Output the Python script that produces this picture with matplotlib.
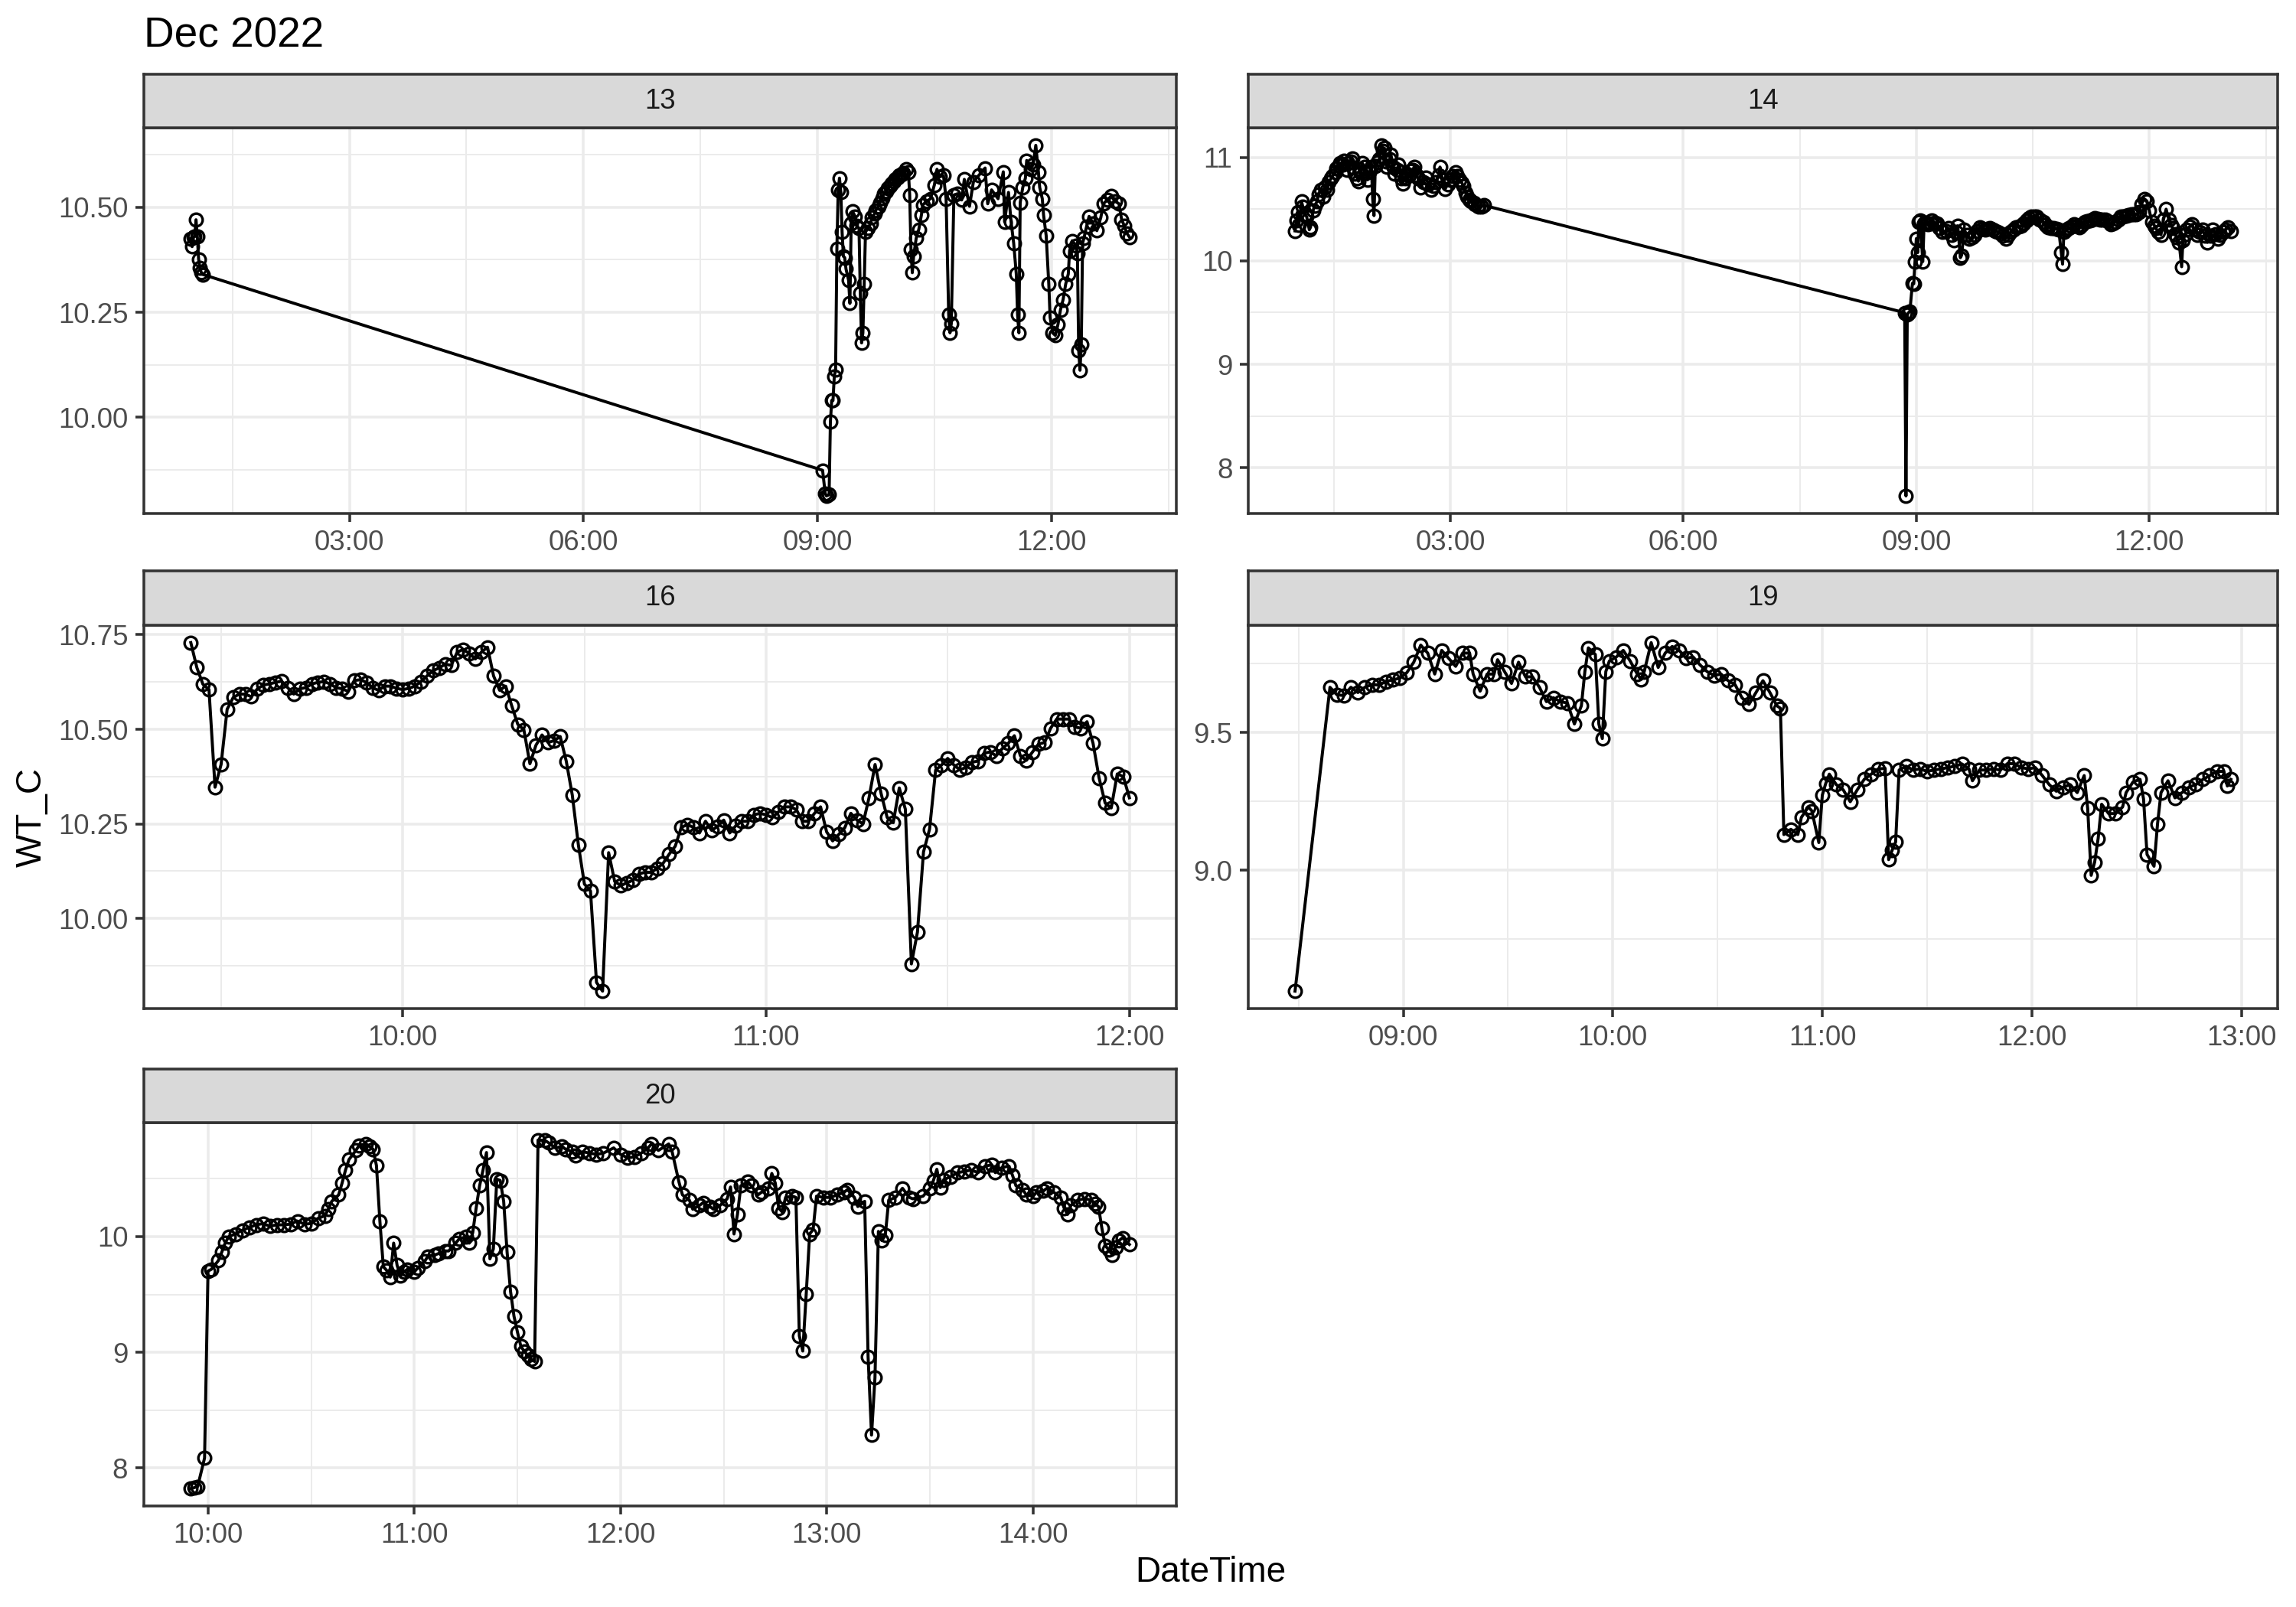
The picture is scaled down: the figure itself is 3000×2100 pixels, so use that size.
import matplotlib
matplotlib.use("Agg")
import matplotlib.pyplot as plt
import matplotlib.dates as mdates
from matplotlib.ticker import FixedLocator, NullFormatter, FixedFormatter
import pandas as pd
import numpy as np

plt.rcParams['font.family'] = ['Liberation Sans', 'DejaVu Sans']

TITLE = "Dec 2022"
X_LABEL = "DateTime"
Y_LABEL = "WT_C"
facet_days = ["13", "14", "16", "19", "20"]

# ---------------- Day 13 ----------------
times_13 = ["00:58", "00:59", "01:00", "01:01", "01:02", "01:03", "01:04", "01:05", "01:06", "01:07",
            "09:04", "09:06", "09:07", "09:09", "09:10", "09:11", "09:12", "09:13", "09:14", "09:15",
            "09:16", "09:17", "09:18", "09:19", "09:20", "09:21", "09:22", "09:24", "09:25", "09:26",
            "09:27", "09:29", "09:30", "09:32", "09:33", "09:34", "09:35", "09:36", "09:37", "09:39",
            "09:41", "09:42", "09:44", "09:45", "09:47", "09:48", "09:50", "09:51", "09:53", "09:54",
            "09:56", "09:57", "09:59", "10:00", "10:02", "10:03", "10:05", "10:06", "10:08", "10:10",
            "10:11", "10:12", "10:13", "10:14", "10:16", "10:18", "10:20", "10:21", "10:24", "10:27",
            "10:30", "10:32", "10:34", "10:37", "10:39", "10:41", "10:42", "10:43", "10:45", "10:48",
            "10:51", "10:53", "10:57", "11:00", "11:04", "11:09", "11:11", "11:14", "11:19", "11:23",
            "11:24", "11:27", "11:29", "11:31", "11:33", "11:34", "11:35", "11:36", "11:38", "11:40",
            "11:41", "11:44", "11:46", "11:48", "11:50", "11:51", "11:53", "11:54", "11:56", "11:58",
            "11:59", "12:01", "12:03", "12:05", "12:07", "12:09", "12:11", "12:13", "12:14", "12:16",
            "12:19", "12:20", "12:21", "12:22", "12:23", "12:24", "12:25", "12:27", "12:29", "12:32",
            "12:35", "12:38", "12:40", "12:43", "12:46", "12:49", "12:52", "12:54", "12:56", "12:58",
            "13:00"]
wt_13 = [10.425, 10.406, 10.429, 10.430, 10.470, 10.430, 10.376, 10.356, 10.345, 10.340,
         9.874, 9.819, 9.813, 9.816, 9.989, 10.040, 10.040, 10.098, 10.113, 10.402,
         10.541, 10.569, 10.536, 10.441, 10.383, 10.380, 10.353, 10.326, 10.271, 10.462,
         10.490, 10.478, 10.456, 10.450, 10.295, 10.177, 10.201, 10.317, 10.441, 10.450,
         10.462, 10.475, 10.484, 10.493, 10.502, 10.511, 10.522, 10.532, 10.538, 10.544,
         10.550, 10.556, 10.561, 10.566, 10.571, 10.575, 10.578, 10.581, 10.590, 10.584,
         10.529, 10.399, 10.344, 10.383, 10.426, 10.447, 10.481, 10.505, 10.514, 10.520,
         10.553, 10.590, 10.572, 10.575, 10.520, 10.244, 10.201, 10.223, 10.529, 10.532,
         10.517, 10.566, 10.502, 10.560, 10.575, 10.593, 10.508, 10.541, 10.520, 10.584,
         10.465, 10.535, 10.465, 10.414, 10.341, 10.244, 10.201, 10.511, 10.547, 10.569,
         10.611, 10.590, 10.602, 10.647, 10.584, 10.547, 10.520, 10.481, 10.432, 10.317,
         10.238, 10.201, 10.195, 10.220, 10.256, 10.280, 10.317, 10.341, 10.396, 10.420,
         10.408, 10.390, 10.159, 10.112, 10.174, 10.414, 10.426, 10.453, 10.478, 10.462,
         10.444, 10.475, 10.508, 10.517, 10.526, 10.514, 10.508, 10.471, 10.456, 10.438,
         10.429]

# ---------------- Day 14 ----------------
times_14 = ["01:00", "01:01", "01:02", "01:03", "01:05", "01:06", "01:08", "01:09", "01:11", "01:12",
            "01:14", "01:15", "01:17", "01:18", "01:20", "01:22", "01:23", "01:25", "01:26", "01:28",
            "01:29", "01:31", "01:32", "01:34", "01:35", "01:37", "01:38", "01:40", "01:41", "01:43",
            "01:44", "01:45", "01:46", "01:48", "01:49", "01:51", "01:52", "01:54", "01:55", "01:56",
            "01:58", "01:59", "02:00", "02:01", "02:02", "02:04", "02:05", "02:07", "02:08", "02:09",
            "02:10", "02:11", "02:13", "02:14", "02:16", "02:17", "02:19", "02:20", "02:22", "02:23",
            "02:25", "02:26", "02:28", "02:29", "02:31", "02:32", "02:34", "02:35", "02:37", "02:39",
            "02:41", "02:43", "02:45", "02:47", "02:49", "02:51", "02:52", "02:54", "02:56", "02:58",
            "03:00", "03:02", "03:04", "03:05", "03:07", "03:09", "03:10", "03:12", "03:13", "03:15",
            "03:16", "03:18", "03:19", "03:21", "03:22", "03:24", "03:26",
            "08:51", "08:52", "08:53", "08:54", "08:55", "08:57", "08:58", "08:59", "09:00", "09:01",
            "09:02", "09:03", "09:05", "09:06", "09:08", "09:09", "09:11", "09:12", "09:14", "09:16",
            "09:18", "09:20", "09:23", "09:25", "09:27", "09:29", "09:31", "09:32", "09:34", "09:35",
            "09:37", "09:39", "09:41", "09:43", "09:45", "09:47", "09:49", "09:51", "09:53", "09:55",
            "09:57", "09:59", "10:01", "10:03", "10:05", "10:07", "10:09", "10:11", "10:13", "10:15",
            "10:17", "10:19", "10:21", "10:23", "10:25", "10:27", "10:29", "10:31", "10:33", "10:35",
            "10:38", "10:40", "10:42", "10:44", "10:46", "10:48", "10:50", "10:52", "10:53", "10:54",
            "10:56", "10:58", "11:00", "11:02", "11:04", "11:06", "11:08", "11:10", "11:12", "11:14",
            "11:16", "11:18", "11:20", "11:22", "11:24", "11:26", "11:28", "11:30", "11:32", "11:34",
            "11:36", "11:38", "11:40", "11:42", "11:44", "11:46", "11:48", "11:50", "11:52", "11:54",
            "11:56", "11:58", "12:00", "12:02", "12:04", "12:05", "12:07", "12:09", "12:11", "12:13",
            "12:15", "12:17", "12:18", "12:20", "12:21", "12:23", "12:25", "12:26", "12:28", "12:29",
            "12:31", "12:33", "12:35", "12:37", "12:39", "12:41", "12:43", "12:45", "12:47", "12:49",
            "12:51", "12:53", "12:55", "12:57", "12:59", "13:01", "13:03"]
wt_14 = [10.289, 10.388, 10.474, 10.350, 10.573, 10.523, 10.450, 10.425, 10.300, 10.326,
         10.486, 10.530, 10.573, 10.640, 10.684, 10.620, 10.709, 10.690, 10.758, 10.800,
         10.820, 10.860, 10.894, 10.920, 10.943, 10.930, 10.968, 10.880, 10.943, 10.960,
         10.993, 10.900, 10.844, 10.800, 10.770, 10.860, 10.943, 10.906, 10.850, 10.783,
         10.870, 10.906, 10.598, 10.437, 10.919, 10.950, 10.980, 11.116, 11.060, 11.091,
         10.960, 10.906, 10.980, 11.030, 10.900, 10.844, 10.880, 10.931, 10.800, 10.746,
         10.800, 10.844, 10.830, 10.869, 10.880, 10.906, 10.830, 10.795, 10.709, 10.760,
         10.807, 10.740, 10.684, 10.720, 10.758, 10.830, 10.906, 10.780, 10.696, 10.740,
         10.783, 10.820, 10.857, 10.820, 10.783, 10.750, 10.721, 10.660, 10.622, 10.590,
         10.573, 10.560, 10.548, 10.530, 10.523, 10.523, 10.536,
         9.499, 7.728, 9.480, 9.499, 9.511, 9.783, 9.778, 9.993, 10.215, 10.079,
         10.375, 10.388, 9.993, 10.363, 10.370, 10.351, 10.360, 10.388, 10.370, 10.363,
         10.320, 10.277, 10.290, 10.314, 10.250, 10.202, 10.280, 10.338, 10.030, 10.054,
         10.301, 10.250, 10.215, 10.230, 10.252, 10.290, 10.326, 10.310, 10.301, 10.310,
         10.314, 10.300, 10.289, 10.280, 10.264, 10.240, 10.215, 10.250, 10.277, 10.300,
         10.326, 10.330, 10.338, 10.360, 10.388, 10.410, 10.425, 10.430, 10.425, 10.400,
         10.375, 10.350, 10.326, 10.320, 10.314, 10.310, 10.301, 10.079, 9.968, 10.277,
         10.300, 10.314, 10.330, 10.351, 10.340, 10.326, 10.350, 10.375, 10.380, 10.388,
         10.400, 10.412, 10.405, 10.400, 10.400, 10.400, 10.380, 10.351, 10.360, 10.375,
         10.400, 10.425, 10.430, 10.437, 10.440, 10.449, 10.449, 10.449, 10.470, 10.548,
         10.598, 10.573, 10.486, 10.375, 10.340, 10.314, 10.280, 10.252, 10.400, 10.499,
         10.400, 10.350, 10.314, 10.260, 10.227, 10.178, 9.943, 10.202, 10.260, 10.301,
         10.330, 10.351, 10.300, 10.252, 10.280, 10.301, 10.240, 10.178, 10.240, 10.301,
         10.260, 10.215, 10.250, 10.277, 10.300, 10.326, 10.289]

# ---------------- Day 16 (one reading per minute) ----------------
start_16 = "09:25"
wt_16 = [10.729, 10.663, 10.619, 10.605, 10.347, 10.407, 10.553, 10.584, 10.593, 10.593,
         10.586, 10.607, 10.617, 10.620, 10.624, 10.627, 10.610, 10.593, 10.607, 10.610,
         10.620, 10.624, 10.626, 10.620, 10.610, 10.607, 10.600, 10.629, 10.631, 10.624,
         10.610, 10.603, 10.614, 10.614, 10.608, 10.605, 10.608, 10.614, 10.626, 10.641,
         10.655, 10.662, 10.672, 10.669, 10.704, 10.711, 10.700, 10.686, 10.704, 10.717,
         10.641, 10.603, 10.614, 10.562, 10.513, 10.499, 10.409, 10.458, 10.485, 10.465,
         10.470, 10.481, 10.416, 10.326, 10.195, 10.091, 10.073, 9.831, 9.808, 10.174,
         10.098, 10.087, 10.094, 10.101, 10.118, 10.122, 10.122, 10.132, 10.146, 10.170,
         10.191, 10.241, 10.248, 10.241, 10.226, 10.257, 10.233, 10.243, 10.260, 10.226,
         10.245, 10.257, 10.257, 10.274, 10.278, 10.274, 10.267, 10.281, 10.295, 10.295,
         10.288, 10.257, 10.257, 10.278, 10.295, 10.229, 10.205, 10.222, 10.240, 10.278,
         10.260, 10.250, 10.319, 10.407, 10.330, 10.267, 10.253, 10.345, 10.289, 9.880,
         9.964, 10.176, 10.236, 10.392, 10.406, 10.423, 10.406, 10.393, 10.399, 10.413,
         10.416, 10.437, 10.440, 10.430, 10.449, 10.463, 10.483, 10.430, 10.418, 10.440,
         10.461, 10.465, 10.503, 10.527, 10.527, 10.527, 10.506, 10.503, 10.520, 10.463,
         10.371, 10.305, 10.292, 10.382, 10.375, 10.319]

# ---------------- Day 19 ----------------
times_19 = ["08:29", "08:39", "08:41", "08:43", "08:45", "08:47", "08:49", "08:51", "08:53", "08:55",
            "08:57", "08:59", "09:01", "09:03", "09:05", "09:07", "09:09", "09:11", "09:13", "09:15",
            "09:17", "09:19", "09:20", "09:22", "09:24", "09:26", "09:27", "09:29", "09:31", "09:33",
            "09:35", "09:37", "09:39", "09:41", "09:43", "09:45", "09:47", "09:49", "09:51", "09:52",
            "09:53", "09:55", "09:56", "09:57", "09:58", "09:59", "10:01", "10:03", "10:05", "10:07",
            "10:08", "10:09", "10:11", "10:13", "10:15", "10:17", "10:19", "10:21", "10:23", "10:25",
            "10:27", "10:29", "10:31", "10:33", "10:35", "10:37", "10:39", "10:41", "10:43", "10:45",
            "10:47", "10:48", "10:49", "10:51", "10:53", "10:54", "10:56", "10:57", "10:59", "11:00",
            "11:01", "11:02", "11:04", "11:06", "11:08", "11:10", "11:12", "11:14", "11:16", "11:18",
            "11:19", "11:20", "11:21", "11:22", "11:24", "11:26", "11:28", "11:30", "11:32", "11:34",
            "11:36", "11:38", "11:40", "11:42", "11:43", "11:45", "11:47", "11:49", "11:51", "11:53",
            "11:55", "11:57", "11:59", "12:01", "12:03", "12:05", "12:07", "12:09", "12:11", "12:13",
            "12:15", "12:16", "12:17", "12:18", "12:19", "12:20", "12:22", "12:24", "12:26", "12:27",
            "12:29", "12:31", "12:32", "12:33", "12:35", "12:36", "12:37", "12:39", "12:41", "12:43",
            "12:45", "12:47", "12:49", "12:51", "12:53", "12:55", "12:56", "12:57"]
wt_19 = [8.562, 9.664, 9.637, 9.634, 9.664, 9.645, 9.664, 9.674, 9.672, 9.685,
         9.691, 9.697, 9.717, 9.755, 9.817, 9.788, 9.712, 9.798, 9.769, 9.740,
         9.788, 9.788, 9.712, 9.650, 9.712, 9.712, 9.764, 9.721, 9.678, 9.755,
         9.702, 9.702, 9.664, 9.612, 9.626, 9.612, 9.607, 9.531, 9.597, 9.721,
         9.807, 9.783, 9.531, 9.478, 9.721, 9.759, 9.774, 9.798, 9.759, 9.712,
         9.693, 9.721, 9.826, 9.736, 9.788, 9.812, 9.798, 9.769, 9.774, 9.745,
         9.721, 9.707, 9.712, 9.688, 9.674, 9.626, 9.602, 9.645, 9.688, 9.645,
         9.597, 9.588, 9.130, 9.149, 9.130, 9.192, 9.230, 9.216, 9.101, 9.273,
         9.316, 9.349, 9.311, 9.292, 9.249, 9.292, 9.330, 9.349, 9.368, 9.370,
         9.039, 9.073, 9.103, 9.364, 9.378, 9.364, 9.368, 9.359, 9.364, 9.368,
         9.373, 9.378, 9.386, 9.368, 9.325, 9.364, 9.364, 9.368, 9.364, 9.387,
         9.387, 9.373, 9.368, 9.373, 9.344, 9.311, 9.287, 9.302, 9.311, 9.282,
         9.344, 9.225, 8.982, 9.030, 9.116, 9.240, 9.206, 9.206, 9.230, 9.282,
         9.321, 9.330, 9.259, 9.058, 9.015, 9.168, 9.282, 9.325, 9.263, 9.282,
         9.302, 9.311, 9.330, 9.344, 9.359, 9.359, 9.306, 9.330]

# ---------------- Day 20 ----------------
times_20 = ["09:55", "09:56", "09:57", "09:59", "10:00", "10:01", "10:03", "10:04", "10:05", "10:06",
            "10:08", "10:10", "10:12", "10:14", "10:16", "10:18", "10:20", "10:22", "10:24", "10:26",
            "10:28", "10:30", "10:32", "10:34", "10:35", "10:36", "10:38", "10:39", "10:40", "10:41",
            "10:43", "10:44", "10:46", "10:47", "10:48", "10:49", "10:50", "10:51", "10:52", "10:53",
            "10:54", "10:55", "10:56", "10:57", "10:58", "11:00", "11:01", "11:03", "11:04", "11:06",
            "11:07", "11:09", "11:10", "11:12", "11:13", "11:15", "11:16", "11:17", "11:18", "11:19",
            "11:20", "11:21", "11:22", "11:23", "11:24", "11:25", "11:26", "11:27", "11:28", "11:29",
            "11:30", "11:31", "11:32", "11:33", "11:34", "11:35", "11:36", "11:38", "11:39", "11:41",
            "11:43", "11:44", "11:46", "11:47", "11:49", "11:51", "11:53", "11:55", "11:58", "12:00",
            "12:02", "12:04", "12:06", "12:08", "12:09", "12:11", "12:14", "12:15", "12:17", "12:18",
            "12:20", "12:21", "12:23", "12:24", "12:26", "12:27", "12:29", "12:31", "12:32", "12:33",
            "12:34", "12:35", "12:37", "12:38", "12:40", "12:41", "12:43", "12:44", "12:45", "12:46",
            "12:47", "12:48", "12:50", "12:51", "12:52", "12:53", "12:54", "12:55", "12:56", "12:57",
            "12:59", "13:01", "13:03", "13:05", "13:06", "13:08", "13:09", "13:11", "13:12", "13:13",
            "13:14", "13:15", "13:16", "13:17", "13:18", "13:20", "13:22", "13:24", "13:25", "13:28",
            "13:30", "13:31", "13:32", "13:33", "13:34", "13:36", "13:38", "13:40", "13:42", "13:44",
            "13:46", "13:48", "13:49", "13:51", "13:53", "13:54", "13:55", "13:57", "13:58", "14:00",
            "14:01", "14:03", "14:04", "14:06", "14:08", "14:09", "14:10", "14:11", "14:13", "14:15",
            "14:17", "14:18", "14:19", "14:20", "14:21", "14:22", "14:23", "14:24", "14:25", "14:26",
            "14:28"]
wt_20 = [7.822, 7.830, 7.840, 8.086, 9.702, 9.718, 9.792, 9.865, 9.944, 10.000,
         10.023, 10.056, 10.079, 10.102, 10.113, 10.090, 10.102, 10.102, 10.108, 10.135,
         10.108, 10.113, 10.158, 10.181, 10.237, 10.305, 10.361, 10.463, 10.576, 10.666,
         10.745, 10.790, 10.801, 10.779, 10.756, 10.614, 10.131, 9.740, 9.707, 9.650,
         9.944, 9.752, 9.661, 9.695, 9.718, 9.695, 9.729, 9.786, 9.831, 9.842,
         9.853, 9.876, 9.876, 9.944, 9.977, 10.000, 9.944, 10.034, 10.248, 10.440,
         10.576, 10.727, 9.808, 9.894, 10.497, 10.485, 10.305, 9.865, 9.526, 9.312,
         9.176, 9.052, 9.007, 8.973, 8.939, 8.921, 10.835, 10.831, 10.813, 10.767,
         10.779, 10.756, 10.734, 10.700, 10.734, 10.722, 10.711, 10.722, 10.767, 10.711,
         10.682, 10.688, 10.722, 10.767, 10.801, 10.745, 10.801, 10.734, 10.470, 10.361,
         10.316, 10.237, 10.271, 10.293, 10.260, 10.237, 10.271, 10.327, 10.429, 10.023,
         10.192, 10.440, 10.474, 10.440, 10.361, 10.384, 10.418, 10.546, 10.463, 10.248,
         10.214, 10.339, 10.350, 10.339, 9.142, 9.011, 9.503, 10.023, 10.061, 10.350,
         10.339, 10.339, 10.361, 10.384, 10.406, 10.339, 10.260, 10.305, 8.962, 8.284,
         8.781, 10.045, 9.966, 10.011, 10.316, 10.339, 10.418, 10.339, 10.327, 10.350,
         10.418, 10.485, 10.582, 10.424, 10.492, 10.519, 10.553, 10.564, 10.576, 10.553,
         10.609, 10.621, 10.553, 10.598, 10.609, 10.530, 10.440, 10.406, 10.361, 10.350,
         10.384, 10.395, 10.418, 10.384, 10.339, 10.248, 10.192, 10.271, 10.316, 10.327,
         10.316, 10.282, 10.260, 10.072, 9.921, 9.887, 9.842, 9.910, 9.966, 9.989,
         9.932]

# ---------------- Axis breaks / labels ----------------
xmajor = {"13": ["03:00", "06:00", "09:00", "12:00"],
          "14": ["03:00", "06:00", "09:00", "12:00"],
          "16": ["10:00", "11:00", "12:00"],
          "19": ["09:00", "10:00", "11:00", "12:00", "13:00"],
          "20": ["10:00", "11:00", "12:00", "13:00", "14:00"]}
xminor = {"13": ["01:30", "04:30", "07:30", "10:30", "13:30"],
          "14": ["01:30", "04:30", "07:30", "10:30", "13:30"],
          "16": ["09:30", "10:30", "11:30"],
          "19": ["08:30", "09:30", "10:30", "11:30", "12:30"],
          "20": ["10:30", "11:30", "12:30", "13:30", "14:30"]}
ymajor = {"13": [10.00, 10.25, 10.50],
          "14": [8, 9, 10, 11],
          "16": [10.00, 10.25, 10.50, 10.75],
          "19": [9.0, 9.5],
          "20": [8, 9, 10]}
ylabels = {"13": ["10.00", "10.25", "10.50"],
           "14": ["8", "9", "10", "11"],
           "16": ["10.00", "10.25", "10.50", "10.75"],
           "19": ["9.0", "9.5"],
           "20": ["8", "9", "10"]}
yminor = {"13": [9.875, 10.125, 10.375, 10.625],
          "14": [8.5, 9.5, 10.5],
          "16": [9.875, 10.125, 10.375, 10.625],
          "19": [8.75, 9.25, 9.75],
          "20": [8.5, 9.5, 10.5]}


def stamps(day, hhmm):
    return pd.to_datetime([f"2022-12-{day} {t}" for t in hhmm])


series = {
    "13": (stamps("13", times_13), wt_13),
    "14": (stamps("14", times_14), wt_14),
    "16": (pd.date_range(f"2022-12-16 {start_16}", periods=len(wt_16), freq="1min"), wt_16),
    "19": (stamps("19", times_19), wt_19),
    "20": (stamps("20", times_20), wt_20),
}
for d, (t, v) in series.items():
    assert len(t) == len(v), (d, len(t), len(v))

# ---------------- Layout (pixel geometry of 3000x2100 canvas) ----------------
W, H = 3000, 2100
fig = plt.figure(figsize=(10, 7), dpi=300)
fig.patch.set_facecolor("white")

cols = [(188, 1537), (1631, 2976)]
rows = [(97, 167, 671), (746, 817, 1318), (1397, 1467, 1968)]
slots = {"13": (0, 0), "14": (0, 1), "16": (1, 0), "19": (1, 1), "20": (2, 0)}

GRID = "#EBEBEB"
DARK = "#333333"
LW = 0.85

for day in facet_days:
    r, c = slots[day]
    x0, x1 = cols[c]
    st, pt, pb = rows[r]
    ax = fig.add_axes([x0 / W, 1 - pb / H, (x1 - x0) / W, (pb - pt) / H])
    sax = fig.add_axes([x0 / W, 1 - pt / H, (x1 - x0) / W, (pt - st) / H])

    t, v = series[day]
    tn = mdates.date2num(t)
    ax.plot(tn, v, color="black", lw=0.95, marker="o", mfc="none", mec="black",
            ms=4.0, mew=0.8, zorder=3)

    # ggplot default 5% expansion
    xr = tn.max() - tn.min()
    ax.set_xlim(tn.min() - 0.05 * xr, tn.max() + 0.05 * xr)
    yr = max(v) - min(v)
    ax.set_ylim(min(v) - 0.05 * yr, max(v) + 0.05 * yr)

    ax.xaxis.set_major_locator(FixedLocator(mdates.date2num(stamps(day, xmajor[day]))))
    ax.xaxis.set_minor_locator(FixedLocator(mdates.date2num(stamps(day, xminor[day]))))
    ax.xaxis.set_major_formatter(mdates.DateFormatter("%H:%M"))
    ax.xaxis.set_minor_formatter(NullFormatter())
    ax.yaxis.set_major_locator(FixedLocator(ymajor[day]))
    ax.yaxis.set_major_formatter(FixedFormatter(ylabels[day]))
    ax.yaxis.set_minor_locator(FixedLocator(yminor[day]))

    ax.grid(which="major", color=GRID, lw=LW, zorder=0)
    ax.grid(which="minor", color=GRID, lw=LW * 0.55, zorder=0)
    ax.set_axisbelow(True)
    ax.tick_params(which="major", length=2.75, width=LW, color=DARK,
                   labelsize=8.8, labelcolor="#4D4D4D", pad=2.2)
    ax.tick_params(which="minor", length=0)
    for sp in ax.spines.values():
        sp.set_color(DARK)
        sp.set_linewidth(LW)
        sp.set_zorder(5)

    sax.set_facecolor("#D9D9D9")
    sax.set_xticks([])
    sax.set_yticks([])
    for sp in sax.spines.values():
        sp.set_color(DARK)
        sp.set_linewidth(LW)
    sax.text(0.5, 0.5, day, ha="center", va="center", fontsize=8.8,
             color="#1A1A1A", transform=sax.transAxes)

fig.text(188 / W, 1 - 62 / H, TITLE, fontsize=13.2, color="black",
         ha="left", va="baseline")
fig.text((188 + 2976) / 2 / W, 1 - 2055 / H, X_LABEL, fontsize=11,
         color="black", ha="center", va="center")
fig.text(42 / W, 1 - 1068 / H, Y_LABEL, fontsize=11, color="black",
         ha="center", va="center", rotation=90)

fig.savefig("out.png", dpi=300, facecolor="white")
